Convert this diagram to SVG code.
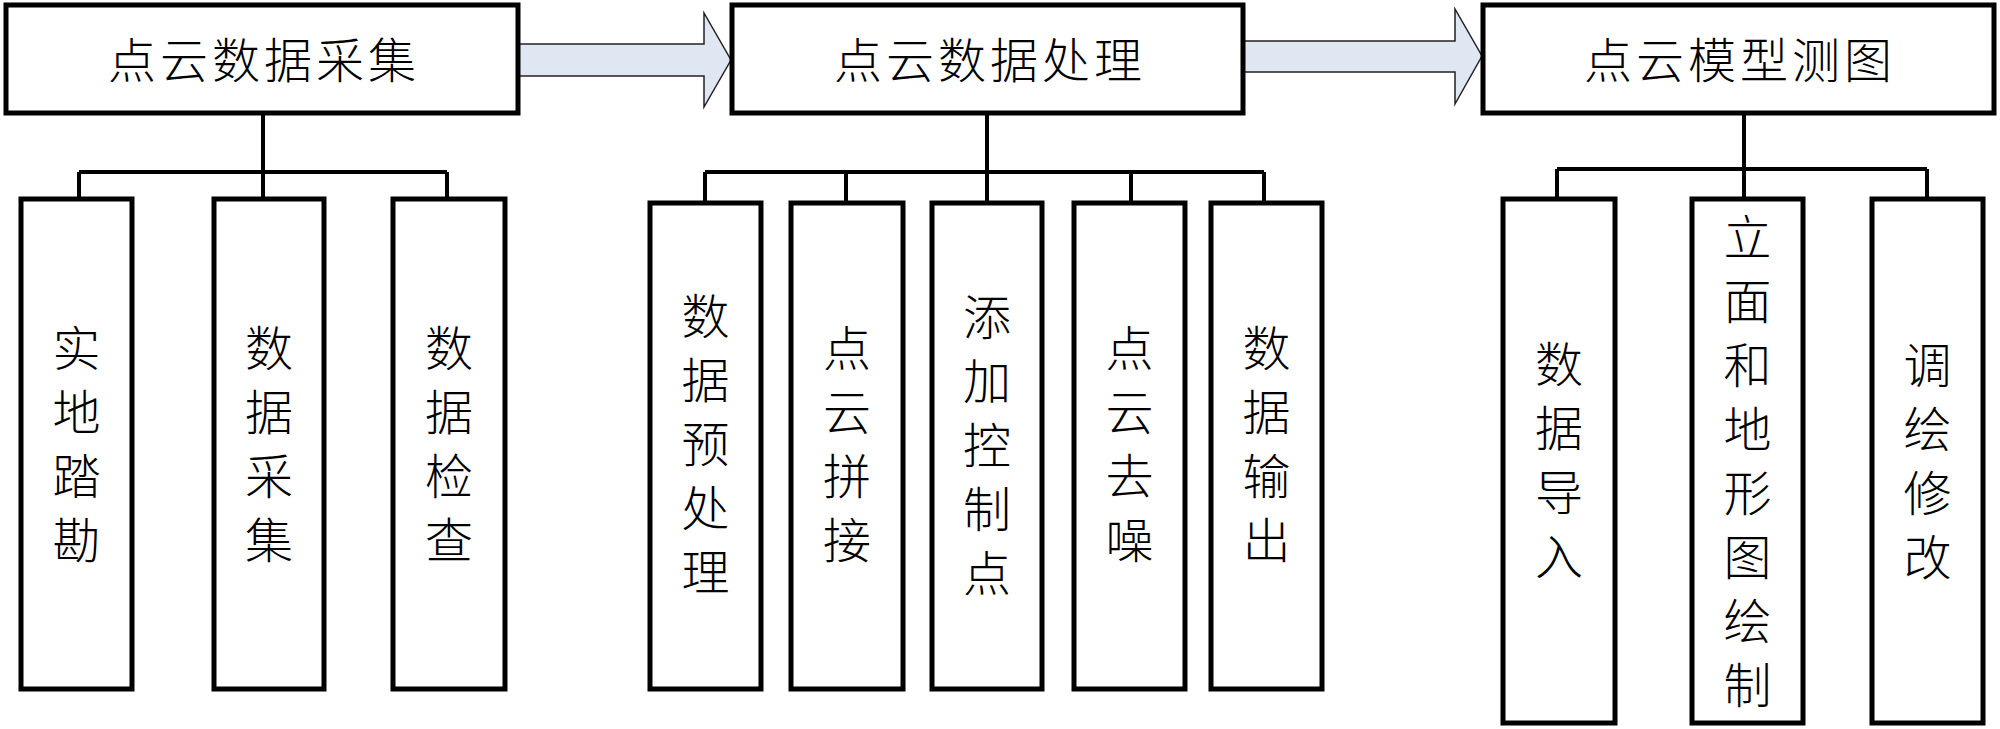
<svg xmlns="http://www.w3.org/2000/svg" width="2000" height="729" viewBox="0 0 2000 729">
<style>
.box{fill:#fff;stroke:#000;stroke-width:5}
.conn{fill:none;stroke:#000;stroke-width:4}
.arrow{fill:#dfe7f2;stroke:#222;stroke-width:1.5;stroke-linejoin:miter}
.t{font-family:"Noto Sans CJK SC","Noto Sans",sans-serif;font-size:48px;font-weight:300;fill:#000;text-anchor:middle;dominant-baseline:central}
.h{letter-spacing:4px}
</style>
<rect x="0" y="0" width="2000" height="729" fill="#fff"/>
<g id="arrows">
<polygon class="arrow" points="517,44 704,44 704,13 731,60 704,107 704,76 517,76"/>
<polygon class="arrow" points="1243,41 1455,41 1455,9 1482,56 1455,104 1455,72 1243,72"/>
</g>
<g id="connectors">
<path class="conn" d="M263,113 V172 M79,172 H447 M79,172 V199 M263,172 V199 M447,172 V199"/>
<path class="conn" d="M987,113 V203 M705,172 H1264 M705,172 V203 M846,172 V203 M1131,172 V203 M1264,172 V203"/>
<path class="conn" d="M1744,113 V199 M1557,169 H1927 M1557,169 V199 M1927,169 V199"/>
</g>
<g id="n1"><rect class="box" x="6" y="5" width="512" height="108"/><text class="t h" x="264" y="57">点云数据采集</text></g>
<g id="n2"><rect class="box" x="732" y="5" width="511" height="108"/><text class="t h" x="990" y="57">点云数据处理</text></g>
<g id="n3"><rect class="box" x="1483" y="5" width="511" height="108"/><text class="t h" x="1740" y="57">点云模型测图</text></g>

<g id="c1"><rect class="box" x="21" y="199" width="111" height="490"/>
<text class="t" x="76.5"><tspan x="76.5" y="345">实</tspan><tspan x="76.5" y="409">地</tspan><tspan x="76.5" y="473">踏</tspan><tspan x="76.5" y="537">勘</tspan></text></g>
<g id="c2"><rect class="box" x="214" y="199" width="110" height="490"/>
<text class="t"><tspan x="269" y="345">数</tspan><tspan x="269" y="409">据</tspan><tspan x="269" y="473">采</tspan><tspan x="269" y="537">集</tspan></text></g>
<g id="c3"><rect class="box" x="393" y="199" width="112" height="490"/>
<text class="t"><tspan x="449" y="345">数</tspan><tspan x="449" y="409">据</tspan><tspan x="449" y="473">检</tspan><tspan x="449" y="537">查</tspan></text></g>

<g id="c4"><rect class="box" x="650" y="203" width="111" height="486"/>
<text class="t"><tspan x="705.5" y="313">数</tspan><tspan x="705.5" y="377">据</tspan><tspan x="705.5" y="441">预</tspan><tspan x="705.5" y="505">处</tspan><tspan x="705.5" y="569">理</tspan></text></g>
<g id="c5"><rect class="box" x="791" y="203" width="112" height="486"/>
<text class="t"><tspan x="847" y="345">点</tspan><tspan x="847" y="409">云</tspan><tspan x="847" y="473">拼</tspan><tspan x="847" y="537">接</tspan></text></g>
<g id="c6"><rect class="box" x="932" y="203" width="110" height="486"/>
<text class="t"><tspan x="987" y="314">添</tspan><tspan x="987" y="378">加</tspan><tspan x="987" y="442">控</tspan><tspan x="987" y="506">制</tspan><tspan x="987" y="570">点</tspan></text></g>
<g id="c7"><rect class="box" x="1074" y="203" width="111" height="486"/>
<text class="t"><tspan x="1129.5" y="345">点</tspan><tspan x="1129.5" y="409">云</tspan><tspan x="1129.5" y="473">去</tspan><tspan x="1129.5" y="537">噪</tspan></text></g>
<g id="c8"><rect class="box" x="1211" y="203" width="111" height="486"/>
<text class="t"><tspan x="1266.5" y="345">数</tspan><tspan x="1266.5" y="409">据</tspan><tspan x="1266.5" y="473">输</tspan><tspan x="1266.5" y="537">出</tspan></text></g>

<g id="c9"><rect class="box" x="1503" y="199" width="112" height="524"/>
<text class="t"><tspan x="1559" y="361">数</tspan><tspan x="1559" y="425">据</tspan><tspan x="1559" y="489">导</tspan><tspan x="1559" y="553">入</tspan></text></g>
<g id="c10"><rect class="box" x="1692" y="199" width="111" height="524"/>
<text class="t"><tspan x="1747.5" y="234">立</tspan><tspan x="1747.5" y="298">面</tspan><tspan x="1747.5" y="362">和</tspan><tspan x="1747.5" y="426">地</tspan><tspan x="1747.5" y="490">形</tspan><tspan x="1747.5" y="554">图</tspan><tspan x="1747.5" y="618">绘</tspan><tspan x="1747.5" y="682">制</tspan></text></g>
<g id="c11"><rect class="box" x="1872" y="199" width="111" height="524"/>
<text class="t"><tspan x="1927.5" y="362">调</tspan><tspan x="1927.5" y="426">绘</tspan><tspan x="1927.5" y="490">修</tspan><tspan x="1927.5" y="554">改</tspan></text></g>
</svg>
